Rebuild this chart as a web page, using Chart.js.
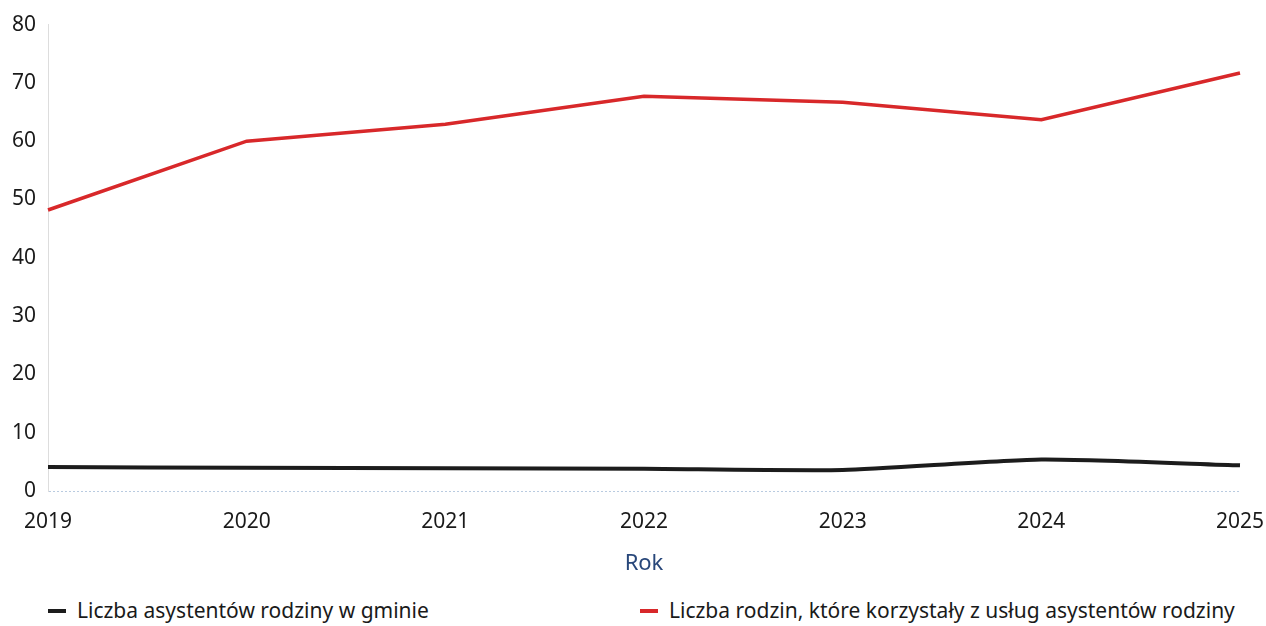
<!DOCTYPE html>
<html>
<head>
<meta charset="utf-8">
<script src="https://cdn.jsdelivr.net/npm/chart.js@4/dist/chart.umd.min.js"></script>
<style>
  html, body { margin: 0; padding: 0; background: #fff; }
  #Wrap { position: relative; width: 1266px; height: 626px; font-family: "Noto Sans", sans-serif; }
  #ChartBox { position: absolute; left: 0; top: 0; width: 1266px; height: 590px; }
  #Legend { position: absolute; left: 0; top: 597px; width: 1266px; height: 26px; font-size: 21px; color: #1a1a1a; }
  .Item { position: absolute; top: 0; line-height: 26px; white-space: nowrap; }
  .Mark { display: inline-block; width: 18px; height: 4px; vertical-align: middle; margin-right: 11px; margin-top: -3px; }
</style>
</head>
<body>
<div id="Wrap">
  <div id="ChartBox"><canvas id="Chart"></canvas></div>
  <div id="Legend"></div>
</div>
<script>
const Years = ["2019", "2020", "2021", "2022", "2023", "2024", "2025"];
const Assistants = [4.1, 4.0, 3.9, 3.8, 3.6, 5.4, 4.4];
const Families = [48.2, 60.0, 62.9, 67.7, 66.7, 63.7, 71.7];
const SeriesNames = [
  "Liczba asystentów rodziny w gminie",
  "Liczba rodzin, które korzystały z usług asystentów rodziny"
];
const SeriesColors = ["#1c1c1c", "#d8282a"];
const YTicks = [0, 10, 20, 30, 40, 50, 60, 70, 80];
const LegendLeft = [48, 640];

const TickFont = { family: "Noto Sans", size: 21 };

const Config = {
  type: "line",
  data: {
    labels: Years,
    datasets: [
      {
        label: SeriesNames[0],
        data: Assistants,
        borderColor: SeriesColors[0],
        backgroundColor: SeriesColors[0],
        borderWidth: 4,
        pointRadius: 0,
        tension: 0.2,
      },
      {
        label: SeriesNames[1],
        data: Families,
        borderColor: SeriesColors[1],
        backgroundColor: SeriesColors[1],
        borderWidth: 3.5,
        pointRadius: 0,
        tension: 0,
      },
    ],
  },
  options: {
    responsive: true,
    maintainAspectRatio: false,
    animation: false,
    layout: { padding: { top: 21, right: 26, left: 0, bottom: 0 } },
    plugins: {
      legend: { display: false },
      tooltip: { enabled: false },
    },
    scales: {
      x: {
        offset: false,
        grid: { display: false, drawTicks: false },
        border: { display: false },
        ticks: { color: "#1a1a1a", font: TickFont, padding: 18, maxRotation: 0 },
        title: {
          display: true,
          text: "Rok",
          color: "#28477a",
          font: { family: "Noto Sans", size: 22 },
          padding: { top: 4, bottom: 13 },
        },
        afterFit: (Scale) => {
          Scale.height = 99;
          Scale.paddingLeft = 0;
          Scale.paddingRight = 0;
        },
      },
      y: {
        min: 0,
        max: 80,
        afterBuildTicks: (Scale) => { Scale.ticks = YTicks.map((V) => ({ value: V })); },
        grid: {
          drawTicks: false,
          color: (Ctx) => (Ctx.tick && Ctx.tick.value === 0 ? "#b9cbe0" : "rgba(0,0,0,0)"),
          lineWidth: 1,
        },
        border: { display: true, color: "#dddddd", dash: [2, 2] },
        ticks: { color: "#1a1a1a", font: TickFont, padding: 12 },
        afterFit: (Scale) => { Scale.width = 48; },
      },
    },
  },
};

new Chart(document.getElementById("Chart"), Config);

const LegendBox = document.getElementById("Legend");
SeriesNames.forEach((Name, I) => {
  const Item = document.createElement("div");
  Item.className = "Item";
  Item.style.left = LegendLeft[I] + "px";
  const Mark = document.createElement("span");
  Mark.className = "Mark";
  Mark.style.background = SeriesColors[I];
  Item.appendChild(Mark);
  Item.appendChild(document.createTextNode(Name));
  LegendBox.appendChild(Item);
});
</script>
</body>
</html>
